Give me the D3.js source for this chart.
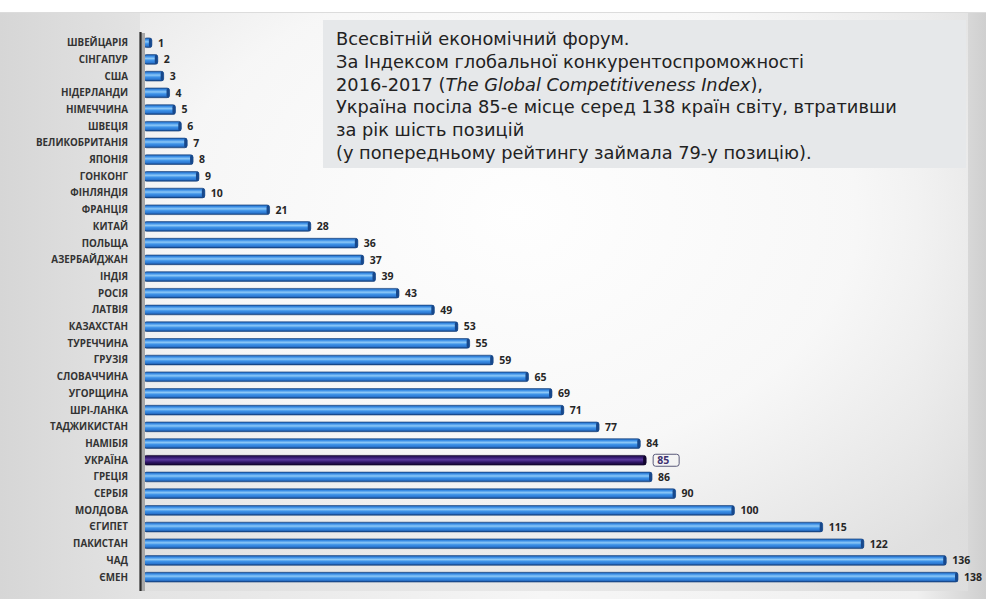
<!DOCTYPE html>
<html>
<head>
<meta charset="utf-8">
<script src="https://cdn.jsdelivr.net/npm/d3@7/dist/d3.min.js"></script>
<style>
  html, body { margin: 0; padding: 0; background: #ffffff; }
  svg { display: block; }
</style>
</head>
<body>
<div id="chart"></div>
<script>
// Global Competitiveness Index 2016-2017: ranks of selected countries
const countries = [
  "ШВЕЙЦАРІЯ", "СІНГАПУР", "США", "НІДЕРЛАНДИ", "НІМЕЧЧИНА", "ШВЕЦІЯ",
  "ВЕЛИКОБРИТАНІЯ", "ЯПОНІЯ", "ГОНКОНГ", "ФІНЛЯНДІЯ", "ФРАНЦІЯ", "КИТАЙ",
  "ПОЛЬЩА", "АЗЕРБАЙДЖАН", "ІНДІЯ", "РОСІЯ", "ЛАТВІЯ", "КАЗАХСТАН",
  "ТУРЕЧЧИНА", "ГРУЗІЯ", "СЛОВАЧЧИНА", "УГОРЩИНА", "ШРІ-ЛАНКА", "ТАДЖИКИСТАН",
  "НАМІБІЯ", "УКРАЇНА", "ГРЕЦІЯ", "СЕРБІЯ", "МОЛДОВА", "ЄГИПЕТ",
  "ПАКИСТАН", "ЧАД", "ЄМЕН"
];
const ranks = [
  1, 2, 3, 4, 5, 6,
  7, 8, 9, 10, 21, 28,
  36, 37, 39, 43, 49, 53,
  55, 59, 65, 69, 71, 77,
  84, 85, 86, 90, 100, 115,
  122, 136, 138
];
const highlighted = "УКРАЇНА";
const totalCountries = 138;

const noteLines = [
  [{ t: "Всесвітній економічний форум." }],
  [{ t: "За Індексом глобальної конкурентоспроможності" }],
  [{ t: "2016-2017 (" }, { t: "The Global Competitiveness Index", i: true }, { t: ")," }],
  [{ t: "Україна посіла 85-е місце серед 138 країн світу, втративши" }],
  [{ t: "за рік шість позицій" }],
  [{ t: "(у попередньому рейтингу займала 79-у позицію)." }]
];

const W = 986, H = 599;
const data = countries.map((c, i) => ({ country: c, rank: ranks[i] }));

const svg = d3.select("#chart").append("svg")
  .attr("width", W).attr("height", H);

const defs = svg.append("defs");

// page backdrop: grey at the edges, lighter towards the middle
const bgGrad = defs.append("linearGradient").attr("id", "bgLeft")
  .attr("x1", 0).attr("x2", 1).attr("y1", 0).attr("y2", 0);
bgGrad.append("stop").attr("offset", "0%").attr("stop-color", "#d6d6d6");
bgGrad.append("stop").attr("offset", "14%").attr("stop-color", "#e3e3e3");
bgGrad.append("stop").attr("offset", "55%").attr("stop-color", "#f6f6f6");
bgGrad.append("stop").attr("offset", "93%").attr("stop-color", "#f0f0f0");
bgGrad.append("stop").attr("offset", "100%").attr("stop-color", "#cfcfcf");

const plotGrad = defs.append("radialGradient").attr("id", "plotBg")
  .attr("cx", "45%").attr("cy", "35%").attr("r", "75%");
plotGrad.append("stop").attr("offset", "0%").attr("stop-color", "#ffffff");
plotGrad.append("stop").attr("offset", "55%").attr("stop-color", "#f8f8f8");
plotGrad.append("stop").attr("offset", "100%").attr("stop-color", "#dedede");

// cylinder-like shading for the bars
function barGradient(id, stops) {
  const g = defs.append("linearGradient").attr("id", id)
    .attr("x1", 0).attr("x2", 0).attr("y1", 0).attr("y2", 1);
  stops.forEach(s => g.append("stop").attr("offset", s[0]).attr("stop-color", s[1]));
}
barGradient("barBlue", [
  ["0%", "#1d5aa8"], ["18%", "#3b8ee6"], ["40%", "#8cc8f7"],
  ["60%", "#3d92e8"], ["82%", "#2c78d2"], ["100%", "#123f7e"]
]);
barGradient("barPurple", [
  ["0%", "#1a0840"], ["25%", "#3b1f7a"], ["45%", "#5a3a9e"],
  ["70%", "#2f1566"], ["100%", "#12052e"]
]);

// backdrop
svg.append("rect").attr("x", 0).attr("y", 0).attr("width", W).attr("height", H)
  .attr("fill", "#ffffff");
svg.append("rect").attr("x", 0).attr("y", 12).attr("width", W).attr("height", H - 12)
  .attr("fill", "url(#bgLeft)");
svg.append("line").attr("x1", 0).attr("x2", W).attr("y1", 12.5).attr("y2", 12.5)
  .attr("stroke", "#dcdcdc").attr("stroke-width", 1);
svg.append("rect").attr("x", 140).attr("y", 13).attr("width", 828).attr("height", 578)
  .attr("fill", "url(#plotBg)").attr("opacity", 0.9);

// scales
const x = d3.scaleLinear().domain([0, totalCountries]).range([146, 958]);
const y = d3.scaleBand().domain(countries).range([34.4, 585.5]).paddingInner(0.42).paddingOuter(0.21);
const barStart = 144;

// bars
const bars = svg.append("g");
bars.selectAll("rect.bar").data(data).join("rect")
  .attr("class", "bar")
  .attr("x", barStart)
  .attr("y", d => y(d.country))
  .attr("width", d => x(d.rank) - barStart)
  .attr("height", y.bandwidth())
  .attr("rx", 2.5).attr("ry", 2.5)
  .attr("fill", d => d.country === highlighted ? "url(#barPurple)" : "url(#barBlue)")
  .attr("stroke", d => d.country === highlighted ? "#0e0326" : "#163f78")
  .attr("stroke-width", 0.6);

// darker rounded end caps
bars.selectAll("rect.cap").data(data).join("rect")
  .attr("class", "cap")
  .attr("x", d => x(d.rank) - 3)
  .attr("y", d => y(d.country))
  .attr("width", 3)
  .attr("height", y.bandwidth())
  .attr("rx", 1.5).attr("ry", 2.5)
  .attr("fill", d => d.country === highlighted ? "#12052e" : "#17488c");

// category axis
const yAxis = d3.axisLeft(y).tickSize(0).tickPadding(12);
const gy = svg.append("g").attr("transform", "translate(140,0)").call(yAxis);
gy.select(".domain").remove();
gy.selectAll("text")
  .attr("font-family", "'Open Sans', 'DejaVu Sans', sans-serif")
  .attr("font-weight", 700)
  .attr("font-size", 9.8)
  .attr("fill", "#333333")
  .attr("dy", "0.35em");

// axis line with a soft shadow
svg.append("line").attr("x1", 143).attr("x2", 143).attr("y1", 33).attr("y2", 591)
  .attr("stroke", "#a8a8a8").attr("stroke-width", 4);
svg.append("line").attr("x1", 140.5).attr("x2", 140.5).attr("y1", 32).attr("y2", 591)
  .attr("stroke", "#2a2a2a").attr("stroke-width", 2.2);

// value labels
const labels = svg.append("g");
labels.selectAll("text").data(data).join("text")
  .attr("x", d => x(d.rank) + (d.country === highlighted ? 11 : 6))
  .attr("y", d => y(d.country) + y.bandwidth() / 2)
  .attr("dy", "0.36em")
  .attr("font-family", "'Open Sans', 'DejaVu Sans', sans-serif")
  .attr("font-weight", 700)
  .attr("font-size", 10.5)
  .attr("fill", d => d.country === highlighted ? "#3d3170" : "#262626")
  .text(d => d.rank);

// framed label for the highlighted country
const hl = data.find(d => d.country === highlighted);
svg.append("rect")
  .attr("x", x(hl.rank) + 7).attr("y", y(hl.country) + y.bandwidth() / 2 - 6)
  .attr("width", 26).attr("height", 12)
  .attr("rx", 2.5)
  .attr("fill", "none").attr("stroke", "#5a5a7a").attr("stroke-width", 1);

// note box
svg.append("rect").attr("x", 323).attr("y", 20).attr("width", 643).attr("height", 148)
  .attr("fill", "#e6e8ea");
const note = svg.append("text")
  .attr("font-family", "'DejaVu Sans', Verdana, sans-serif")
  .attr("font-size", 17.8)
  .attr("fill", "#222222");
noteLines.forEach((parts, i) => {
  const line = note.append("tspan").attr("x", 336).attr("y", 45 + i * 22.8);
  parts.forEach(p => {
    line.append("tspan").attr("font-style", p.i ? "italic" : "normal").text(p.t);
  });
});
</script>
</body>
</html>
